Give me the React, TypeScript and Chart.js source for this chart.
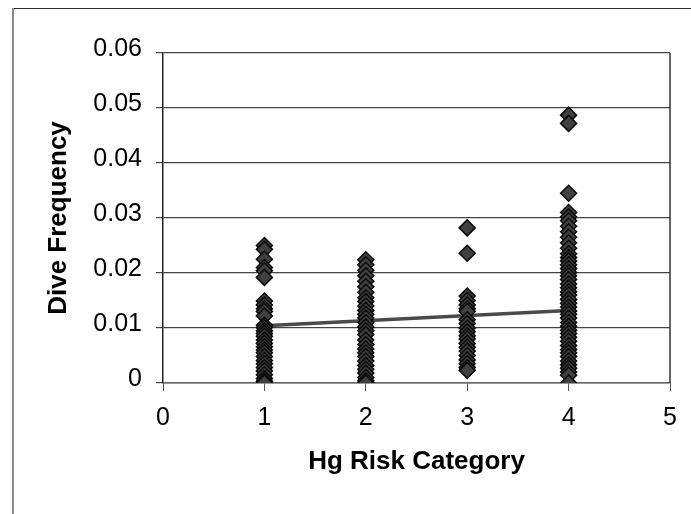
import React, { useEffect, useRef } from 'react';
import { Chart, registerables } from 'chart.js';

Chart.register(...registerables);

// ---- data ----
const xTickValues = [0, 1, 2, 3, 4, 5];
const xTickLabels = ['0', '1', '2', '3', '4', '5'];
const yTickValues = [0, 0.01, 0.02, 0.03, 0.04, 0.05, 0.06];
const yTickLabels = ['0', '0.01', '0.02', '0.03', '0.04', '0.05', '0.06'];

const categories = [1, 2, 3, 4];

const cat1Values = [
  0.025, 0.0243, 0.0225, 0.021, 0.0204, 0.0192,
  0.0149, 0.0142, 0.0135, 0.013, 0.0122, 0.0105, 0.0101, 0.0095, 0.009, 0.0085,
  0.0078, 0.0072, 0.0066, 0.006, 0.0055, 0.0048, 0.0041, 0.0035, 0.0028, 0.0022,
  0.0015, 0.0008, 0.0003, 0,
];
const cat2Values = [
  0.0224, 0.0215, 0.0205, 0.0195, 0.0185, 0.0175, 0.0165, 0.0155, 0.0148, 0.014,
  0.0132, 0.0125, 0.0118, 0.011, 0.0102, 0.0095, 0.0088, 0.0078, 0.007, 0.0062,
  0.0055, 0.0048, 0.004, 0.0032, 0.0025, 0.0018, 0.001, 0.0004, 0,
];
const cat3Values = [
  0.0282, 0.0236,
  0.0158, 0.015, 0.0142, 0.0135, 0.013, 0.0115, 0.0108, 0.01, 0.0093, 0.0086,
  0.008, 0.0072, 0.0065, 0.0058, 0.005, 0.0042, 0.0035, 0.0028, 0.0023,
];
const cat4Values = [
  0.0487, 0.0472, 0.0345,
  0.031, 0.0302, 0.0295, 0.0285, 0.0275, 0.0265, 0.0255, 0.0245, 0.0235, 0.0228,
  0.0222, 0.0215, 0.0208, 0.0201, 0.0195, 0.0188, 0.018, 0.0173, 0.0166, 0.016,
  0.0152, 0.0145, 0.0138, 0.0131, 0.0125, 0.0118, 0.011, 0.0103, 0.0096, 0.009,
  0.0083, 0.0076, 0.0068, 0.0061, 0.0055, 0.0048, 0.004, 0.0033, 0.0027, 0.002,
  0.0014, 0,
];

const trendX = [1, 4];
const trendY = [0.0104, 0.0132];

const FONT = '"Liberation Sans", Arial, Helvetica, sans-serif';

export default function App() {
  const ref = useRef<HTMLCanvasElement>(null);

  useEffect(() => {
    if (!ref.current) return;
    const pointStyle = {
      pointStyle: 'rectRot' as const,
      pointRadius: 8,
      pointHoverRadius: 8,
      pointBackgroundColor: '#404040',
      pointBorderColor: '#0a0a0a',
      pointBorderWidth: 1.5,
      backgroundColor: '#404040',
      borderColor: '#0a0a0a',
      showLine: false,
      order: 1,
    };
    const toPts = (cat: number, vals: number[]) => vals.map((v) => ({ x: cat, y: v }));
    const allValues = [cat1Values, cat2Values, cat3Values, cat4Values];

    const framePlugin = {
      id: 'plotFrame',
      beforeDatasetsDraw(chart: any) {
        const { ctx, chartArea } = chart;
        ctx.save();
        ctx.strokeStyle = '#333333';
        ctx.lineWidth = 1.5;
        ctx.beginPath();
        ctx.moveTo(chartArea.right, chartArea.top);
        ctx.lineTo(chartArea.right, chartArea.bottom);
        ctx.stroke();
        ctx.restore();
      },
    };

    const chart = new Chart(ref.current, {
      type: 'scatter',
      data: {
        datasets: [
          ...categories.map((c, i) => ({
            label: 'Hg ' + c,
            data: toPts(c, allValues[i]),
            ...pointStyle,
          })),
          {
            label: 'Linear trend',
            data: trendX.map((x, i) => ({ x, y: trendY[i] })),
            showLine: true,
            borderColor: '#4a4a4a',
            borderWidth: 3.5,
            pointRadius: 0,
            pointHoverRadius: 0,
            order: 5,
          } as any,
        ],
      },
      options: {
        responsive: false,
        animation: false,
        events: [],
        layout: { padding: { left: 0, top: 53, right: 21, bottom: 0 } },
        plugins: {
          legend: { display: false },
          tooltip: { enabled: false },
        },
        scales: {
          x: {
            type: 'linear',
            min: 0,
            max: 5,
            afterBuildTicks: (s: any) => {
              s.ticks = xTickValues.map((v) => ({ value: v }));
            },
            afterFit: (s: any) => {
              s.height = 131;
            },
            ticks: {
              callback: (_v: any, i: number) => xTickLabels[i],
              color: '#000',
              font: { family: FONT, size: 25 },
              padding: 12,
              maxRotation: 0,
              autoSkip: false,
            },
            grid: {
              drawOnChartArea: false,
              drawTicks: true,
              tickLength: 8,
              color: '#555',
            },
            border: { color: '#666', width: 1.5 },
            title: {
              display: true,
              text: 'Hg Risk Category',
              color: '#000',
              font: { family: FONT, size: 26, weight: 'bold', lineHeight: 1.2 },
              padding: { top: 0, bottom: 37 },
            },
          },
          y: {
            type: 'linear',
            min: 0,
            max: 0.06,
            afterBuildTicks: (s: any) => {
              s.ticks = yTickValues.map((v) => ({ value: v }));
            },
            afterFit: (s: any) => {
              s.width = 163;
            },
            ticks: {
              callback: (_v: any, i: number) => yTickLabels[i],
              color: '#000',
              font: { family: FONT, size: 25 },
              padding: 14,
              labelOffset: -4,
              autoSkip: false,
            },
            grid: {
              drawOnChartArea: true,
              drawTicks: true,
              tickLength: 7,
              color: '#444',
              lineWidth: 1.2,
            },
            border: { color: '#222', width: 1.5 },
            title: {
              display: true,
              text: 'Dive Frequency',
              color: '#000',
              font: { family: FONT, size: 26, weight: 'bold', lineHeight: 1.2 },
              padding: { top: 43, bottom: 0 },
            },
          },
        },
      } as any,
      plugins: [framePlugin],
    });

    return () => chart.destroy();
  }, []);

  return (
    <div style={{ position: 'fixed', left: 0, top: 0, width: 691, height: 514, background: '#fff' }}>
      <canvas ref={ref} width={691} height={514} style={{ display: 'block', position: 'absolute', left: 0, top: 0 }} />
      <div style={{ position: 'absolute', left: 12, top: 8, width: 679, height: 0, borderTop: '1.5px solid #2a2a2a' }} />
      <div style={{ position: 'absolute', left: 12, top: 8, width: 0, height: 506, borderLeft: '2px solid #8a8a8a' }} />
    </div>
  );
}
